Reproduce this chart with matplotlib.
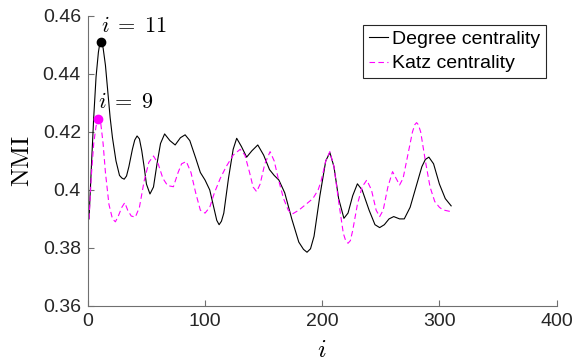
import matplotlib
matplotlib.use('Agg')
import matplotlib.pyplot as plt

plt.rcParams['font.family'] = ['Liberation Sans', 'DejaVu Sans']
plt.rcParams['mathtext.fontset'] = 'cm'

# valores (i, NMI)
i_degree = [1, 3, 5, 7, 9, 10, 11, 12, 13, 15, 17, 19, 21, 24, 27, 29, 31, 33, 35, 38, 40,
            42, 44, 46, 48, 50, 53, 56, 59, 62, 65.5, 70, 74.5, 79, 83, 87, 92, 96, 100,
            104, 108, 110, 112, 114, 116, 120, 124, 127, 131, 135.5, 140, 145, 150, 155,
            159, 163, 168, 174, 180, 184, 187, 190, 193, 198, 203, 206.5, 210, 214, 218.5,
            222, 226, 230, 234, 240, 245, 249, 253, 257, 261, 266, 270, 275, 280, 285,
            288, 291, 295, 300, 305, 310]
nmi_degree = [0.390, 0.408, 0.425, 0.439, 0.4475, 0.4500, 0.451, 0.4503, 0.449, 0.443,
              0.434, 0.425, 0.418, 0.410, 0.405, 0.4041, 0.4037, 0.4048, 0.408, 0.414,
              0.4172, 0.4186, 0.4176, 0.4135, 0.408, 0.402, 0.3986, 0.401, 0.409, 0.416,
              0.4193, 0.417, 0.4155, 0.418, 0.419, 0.417, 0.411, 0.406, 0.4034, 0.400,
              0.393, 0.3895, 0.388, 0.3892, 0.392, 0.404, 0.414, 0.4178, 0.415, 0.4113,
              0.4135, 0.4155, 0.412, 0.407, 0.405, 0.4034, 0.399, 0.390, 0.382, 0.3795,
              0.3785, 0.3797, 0.384, 0.398, 0.410, 0.4129, 0.408, 0.397, 0.3902, 0.392,
              0.398, 0.4021, 0.400, 0.393, 0.388, 0.387, 0.388, 0.390, 0.3908, 0.390,
              0.390, 0.394, 0.401, 0.408, 0.4105, 0.4113, 0.409, 0.402, 0.397, 0.3945]

i_katz = [1, 3, 5, 7, 9, 11, 13, 15, 18, 21, 23.5, 26, 29, 31.5, 34, 37, 40.5, 44, 48, 52,
          56, 60, 64, 68, 73, 77, 80, 84, 88, 92, 96, 100, 104, 108, 113, 118, 124, 130,
          134, 138, 141, 144, 147, 151, 155.5, 159, 163, 167, 171, 174.5, 180, 186, 192,
          196.5, 199, 203, 206.5, 210, 214, 218, 220, 222, 224, 226, 230, 234, 238, 242,
          246, 249, 252, 256, 260, 263, 266, 269, 273, 277, 279, 280.5, 282, 284, 288,
          292, 296, 300, 303, 310]
nmi_katz = [0.390, 0.405, 0.416, 0.422, 0.4246, 0.423, 0.416, 0.406, 0.395, 0.390, 0.389,
            0.391, 0.394, 0.3956, 0.393, 0.391, 0.3906, 0.394, 0.403, 0.4095, 0.4117,
            0.409, 0.404, 0.4015, 0.4011, 0.406, 0.409, 0.4098, 0.406, 0.399, 0.393,
            0.392, 0.394, 0.399, 0.404, 0.408, 0.412, 0.414, 0.412, 0.406, 0.401, 0.3994,
            0.402, 0.409, 0.4132, 0.410, 0.403, 0.397, 0.393, 0.3917, 0.393, 0.395,
            0.397, 0.400, 0.403, 0.410, 0.4132, 0.408, 0.396, 0.385, 0.3825, 0.3816,
            0.3825, 0.386, 0.395, 0.401, 0.4034, 0.400, 0.393, 0.3908, 0.393, 0.401,
            0.4063, 0.404, 0.4017, 0.404, 0.412, 0.420, 0.4225, 0.4232, 0.4225, 0.420,
            0.410, 0.401, 0.396, 0.394, 0.3931, 0.3925]

max_degree = (11, 0.451)
max_katz = (9, 0.4246)

fig = plt.figure(figsize=(5.78, 3.62), dpi=100)
ax = fig.add_axes([0.152, 0.155, 0.811, 0.801])

ax.plot(i_degree, nmi_degree, color='black', lw=0.8, label='Degree centrality')
ax.plot(i_katz, nmi_katz, color='#FF00FF', lw=0.8, ls=(0, (5, 3)), label='Katz centrality')

ax.plot(*max_degree, 'o', color='black', ms=6)
ax.plot(*max_katz, 'o', color='#FF00FF', ms=6)
ax.text(max_degree[0], 0.4546, r'$i\;=\;11$', fontsize=16, va='baseline', ha='left')
ax.text(max_katz[0], 0.4282, r'$i\;=\;9$', fontsize=16, va='baseline', ha='left')

ax.set_xlim(0, 400)
ax.set_ylim(0.36, 0.46)
ax.set_xticks([0, 100, 200, 300, 400])
ax.set_yticks([0.36, 0.38, 0.4, 0.42, 0.44, 0.46])
ax.set_yticklabels(['0.36', '0.38', '0.4', '0.42', '0.44', '0.46'])

for s in ['top', 'right']:
    ax.spines[s].set_visible(False)
for s in ['left', 'bottom']:
    ax.spines[s].set_color('#707070')
    ax.spines[s].set_linewidth(0.8)
ax.tick_params(direction='in', length=4, width=0.8, color='#707070',
               labelsize=14, labelcolor='#262626', pad=5)

ax.set_xlabel(r'$i$', fontsize=18, labelpad=6)
ax.set_ylabel(r'$\mathrm{NMI}$', fontsize=18, labelpad=6)

leg = ax.legend(loc='upper right', bbox_to_anchor=(0.978, 0.97), fontsize=14,
                handlelength=1.0, handletextpad=0.2, borderpad=0.3, labelspacing=0.35,
                borderaxespad=0, fancybox=False, framealpha=1)
leg.get_frame().set_edgecolor('#262626')
leg.get_frame().set_linewidth(0.8)

plt.savefig('out.png', dpi=100)
